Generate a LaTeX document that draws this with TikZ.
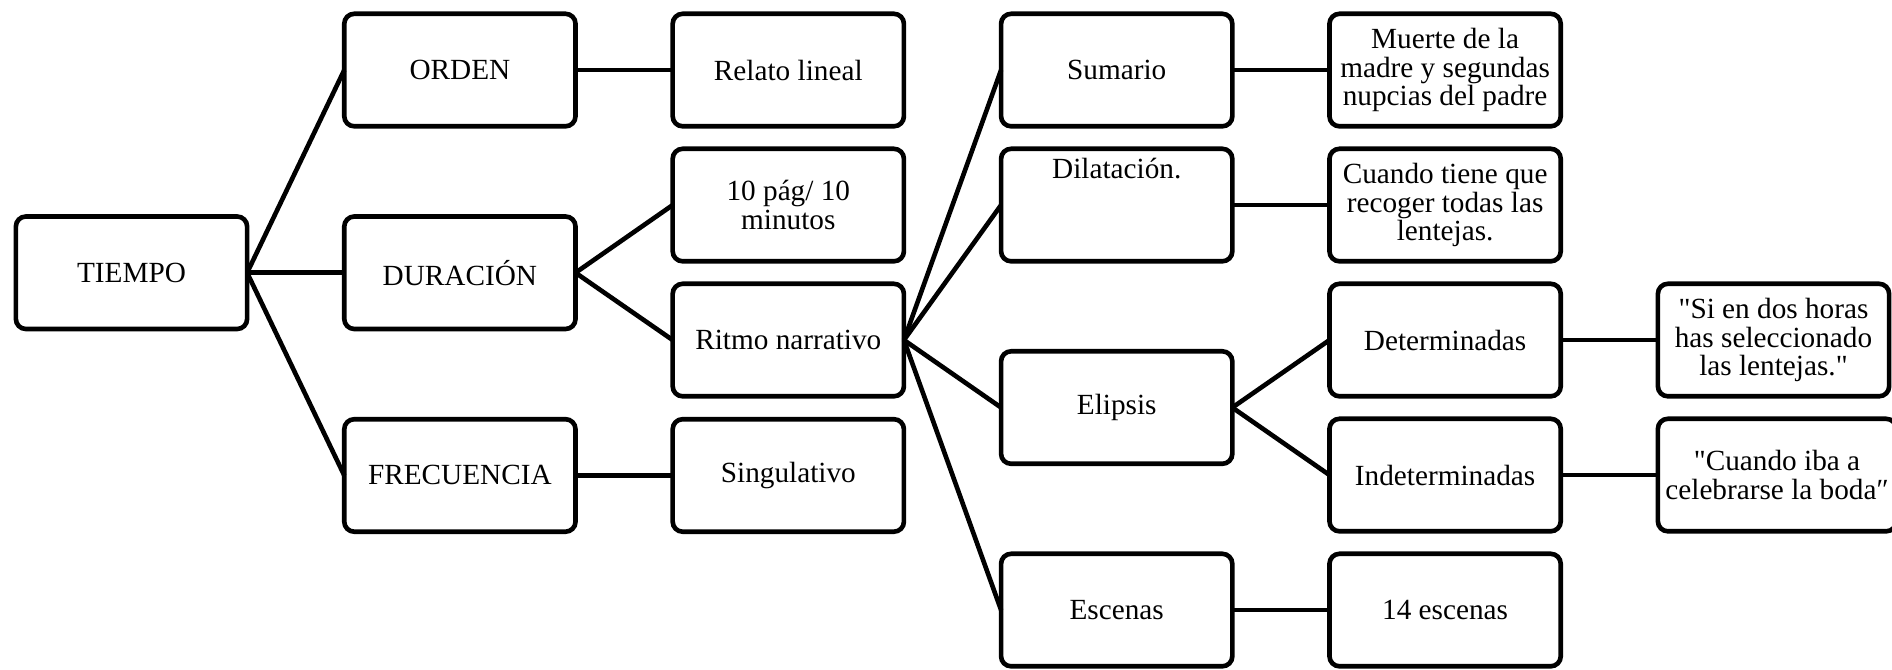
\documentclass[tikz,border=0pt]{standalone}
\usepackage{fontspec}
\setmainfont{Liberation Serif}[Ligatures=TeXOff]
\usetikzlibrary{positioning,calc}

\begin{document}
\begin{tikzpicture}[node distance=9pt and 38.86pt, every node/.style={rectangle, draw, line width=1.85pt, rounded corners=4pt, outer sep=0pt, inner sep=3pt, minimum width=92.5pt, minimum height=45pt, align=center, font=\fontsize{11.7}{11.4}\selectfont}, line width=1.85pt]
		\tikzstyle{toptext} = [text depth=29pt]
		
		\useasboundingbox (-52.6pt,109.1pt) rectangle (704.2pt,-158.5pt);
		
		\node (tiempo) {TIEMPO};
		\node (duracion) [right=of tiempo] {DURACIÓN};
		\node (orden) [above=36.08pt of duracion] {ORDEN};
		\node (frecuencia) [below=36.08pt of duracion] {FRECUENCIA};
		
		\node (relato) [right=of orden] {Relato lineal};
		\node (pag) [below=of relato] {10 pág/ 10\\minutos};
		\node (ritmo) [below=of pag] {Ritmo narrativo};
		\node (singulativo) [right=of frecuencia] {Singulativo};
		
		\node (sumario) [right=of relato] {Sumario};
		\node[toptext] (dilatacion) [below=of sumario] {Dilatación.};
		\node (muerte) [right=of sumario] {Muerte de la\\madre y segundas\\nupcias del padre};
		\node (cuando) [below=of muerte] {Cuando tiene que\\recoger todas las\\lentejas.};
		\node (determinadas) [below=of cuando] {Determinadas};
		\node (indeterminadas) [below=of determinadas] {Indeterminadas};
		\node (catorce) [below=of indeterminadas] {14 escenas};
		\node (escenas) [left=of catorce] {Escenas};
		\node (elipsis) at ($(dilatacion)!0.5!(escenas)$) {Elipsis};
		
		\node (si) [right=of determinadas] {"Si en dos horas\\has seleccionado\\las lentejas."};
		\node (cuandoiba) [right=of indeterminadas] {"Cuando iba a\\celebrarse la boda″};
		
		\draw (tiempo.east) -- (orden.west);
		\draw (tiempo.east) -- (duracion.west);
		\draw (tiempo.east) -- (frecuencia.west);
		\draw (orden.east) -- (relato.west);
		\draw (duracion.east) -- (pag.west);
		\draw (duracion.east) -- (ritmo.west);
		\draw (frecuencia.east) -- (singulativo.west);
		\draw (ritmo.east) -- (sumario.west);
		\draw (ritmo.east) -- (dilatacion.west);
		\draw (ritmo.east) -- (elipsis.west);
		\draw (ritmo.east) -- (escenas.west);
		\draw (sumario.east) -- (muerte.west);
		\draw (dilatacion.east) -- (cuando.west);
		\draw (elipsis.east) -- (determinadas.west);
		\draw (elipsis.east) -- (indeterminadas.west);
		\draw (escenas.east) -- (catorce.west);
		\draw (determinadas.east) -- (si.west);
		\draw (indeterminadas.east) -- (cuandoiba.west);
	\end{tikzpicture}
\end{document}
